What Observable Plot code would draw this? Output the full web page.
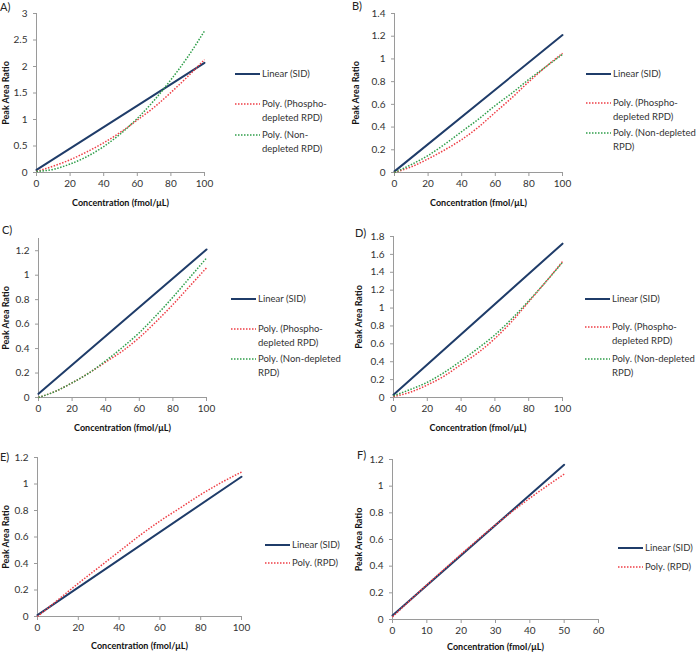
<!DOCTYPE html>
<html><head><meta charset="utf-8">
<script src="https://cdn.jsdelivr.net/npm/d3@7"></script>
<script src="https://cdn.jsdelivr.net/npm/@observablehq/plot@0.6"></script>
<style>
body{margin:0;background:#fff;}
#wrap{position:relative;width:696px;height:652px;font-family:Lato,sans-serif;overflow:hidden;}
.panel{position:absolute;}
.tag{position:absolute;font-size:11px;color:#222;line-height:12px;}
.leg{position:absolute;font-size:9.5px;color:#333;line-height:13.5px;white-space:nowrap;}
.leg svg{position:absolute;left:0;top:0;}
.leg .t{position:absolute;left:27px;top:0;}
g[aria-label="x-axis label"] text, g[aria-label="y-axis label"] text{font-weight:bold;font-size:9px;fill:#111;}
</style></head>
<body><div id="wrap"></div>
<script>
// ---- data ----
const conc100 = [0, 10, 20, 30, 40, 50, 60, 70, 80, 90, 100];
const conc50 = [0, 10, 20, 30, 40, 50];
const linEnds100 = [0, 100];
const linEnds50 = [0, 50];

const linA = [0.05, 2.07];
const phosA = [0.02, 0.12, 0.24, 0.39, 0.56, 0.76, 0.99, 1.23, 1.51, 1.81, 2.13];
const nonA = [0.02, 0.06, 0.16, 0.30, 0.49, 0.73, 1.02, 1.36, 1.75, 2.18, 2.67];

const linB = [0.01, 1.21];
const phosB = [0.00, 0.05, 0.12, 0.20, 0.29, 0.40, 0.53, 0.66, 0.80, 0.93, 1.05];
const nonB = [0.00, 0.07, 0.15, 0.25, 0.36, 0.47, 0.59, 0.70, 0.82, 0.93, 1.04];

const linC = [0.03, 1.21];
const phosC = [0.00, 0.05, 0.12, 0.20, 0.29, 0.38, 0.49, 0.62, 0.76, 0.91, 1.06];
const nonC = [0.00, 0.05, 0.12, 0.20, 0.30, 0.41, 0.53, 0.67, 0.82, 0.98, 1.14];

const linD = [0.03, 1.72];
const phosD = [0.01, 0.06, 0.14, 0.24, 0.37, 0.50, 0.66, 0.85, 1.07, 1.29, 1.52];
const nonD = [0.02, 0.09, 0.17, 0.28, 0.41, 0.55, 0.70, 0.88, 1.08, 1.29, 1.51];

const linE = [0.01, 1.055];
const rpdE = [0.00, 0.125, 0.25, 0.37, 0.49, 0.61, 0.72, 0.82, 0.92, 1.01, 1.09];

const linF = [0.03, 1.16];
const rpdF = [0.02, 0.26, 0.49, 0.71, 0.91, 1.09];

const yTicksA = [0, 0.5, 1, 1.5, 2, 2.5, 3];
const yTicksB = [0, 0.2, 0.4, 0.6, 0.8, 1, 1.2, 1.4];
const yTicksC = [0, 0.2, 0.4, 0.6, 0.8, 1, 1.2];
const yTicksD = [0, 0.2, 0.4, 0.6, 0.8, 1, 1.2, 1.4, 1.6, 1.8];
const yTicksE = [0, 0.2, 0.4, 0.6, 0.8, 1, 1.2];
const yTicksF = [0, 0.2, 0.4, 0.6, 0.8, 1, 1.2];
const xTicks100 = [0, 20, 40, 60, 80, 100];
const xTicks60 = [0, 10, 20, 30, 40, 50, 60];

const tags = ["A)", "B)", "C)", "D)", "E)", "F)"];
const xTitle = "Concentration (fmol/μL)";
const yTitle = "Peak Area Ratio";
const legLinear = ["Linear (SID)"];
const legPhos = ["Poly. (Phospho-", "depleted RPD)"];
const legNonA = ["Poly. (Non-", "depleted RPD)"];
const legNon = ["Poly. (Non-depleted", "RPD)"];
const legRpd = ["Poly. (RPD)"];

// ---- styles ----
const NAVY = "#1F3C69", RED = "#EE3E45", GREEN = "#2F9E4A";

const toRows = (xs, ys) => xs.map((x, i) => ({x, y: ys[i]}));

const panels = [
  {tag: tags[0], xDom: [0, 100], xTicks: xTicks100, yDom: [0, 3], yTicks: yTicksA,
   series: [{xs: linEnds100, ys: linA, kind: "lin"}, {xs: conc100, ys: phosA, kind: "red"}, {xs: conc100, ys: nonA, kind: "green"}],
   legend: [[legLinear, "lin"], [legPhos, "red"], [legNonA, "green"]],
   L: 0, T: 0, W: 214, H: 212, mL: 36, mT: 13, mR: 10, mB: 40, yOff: 34, xOff: 33,
   tagPos: [0, 1], legX: 235, legY: [74, 104, 135]},
  {tag: tags[1], xDom: [0, 100], xTicks: xTicks100, yDom: [0, 1.4], yTicks: yTicksB,
   series: [{xs: linEnds100, ys: linB, kind: "lin"}, {xs: conc100, ys: phosB, kind: "red"}, {xs: conc100, ys: nonB, kind: "green"}],
   legend: [[legLinear, "lin"], [legPhos, "red"], [legNon, "green"]],
   L: 345, T: 0, W: 227, H: 212, mL: 49, mT: 13, mR: 10, mB: 40, yOff: 42, xOff: 33,
   tagPos: [352, 0], legX: 586, legY: [74, 103, 133]},
  {tag: tags[2], xDom: [0, 100], xTicks: xTicks100, yDom: [0, 1.3], yTicks: yTicksC,
   series: [{xs: linEnds100, ys: linC, kind: "lin"}, {xs: conc100, ys: phosC, kind: "red"}, {xs: conc100, ys: nonC, kind: "green"}],
   legend: [[legLinear, "lin"], [legPhos, "red"], [legNon, "green"]],
   L: 0, T: 215, W: 216, H: 222, mL: 38, mT: 23, mR: 10, mB: 40, yOff: 36, xOff: 33,
   tagPos: [2, 224], legX: 231, legY: [299, 329, 359]},
  {tag: tags[3], xDom: [0, 100], xTicks: xTicks100, yDom: [0, 1.8], yTicks: yTicksD,
   series: [{xs: linEnds100, ys: linD, kind: "lin"}, {xs: conc100, ys: phosD, kind: "red"}, {xs: conc100, ys: nonD, kind: "green"}],
   legend: [[legLinear, "lin"], [legPhos, "red"], [legNon, "green"]],
   L: 345, T: 215, W: 227, H: 222, mL: 48, mT: 21, mR: 10, mB: 40, yOff: 38, xOff: 33,
   tagPos: [355, 227], legX: 585, legY: [299, 327, 359]},
  {tag: tags[4], xDom: [0, 100], xTicks: xTicks100, yDom: [0, 1.2], yTicks: yTicksE,
   series: [{xs: linEnds100, ys: linE, kind: "lin"}, {xs: conc100, ys: rpdE, kind: "red"}],
   legend: [[legLinear, "lin"], [legRpd, "red"]],
   L: 0, T: 440, W: 251, H: 212, mL: 37, mT: 17, mR: 10, mB: 36, yOff: 35, xOff: 32,
   tagPos: [0, 451], legX: 265, legY: [545, 563]},
  {tag: tags[5], xDom: [0, 60], xTicks: xTicks60, yDom: [0, 1.2], yTicks: yTicksF,
   series: [{xs: linEnds50, ys: linF, kind: "lin"}, {xs: conc50, ys: rpdF, kind: "red"}],
   legend: [[legLinear, "lin"], [legRpd, "red"]],
   L: 345, T: 440, W: 263, H: 212, mL: 47, mT: 19, mR: 10, mB: 33, yOff: 37, xOff: 30,
   tagPos: [357, 449], legX: 618, legY: [548, 567]}
];

const lineStyle = {
  lin: {stroke: NAVY, strokeWidth: 2},
  red: {stroke: RED, strokeWidth: 1.5, strokeDasharray: "1.5,1.5", strokeLinecap: "butt", curve: "monotone-x"},
  green: {stroke: GREEN, strokeWidth: 1.5, strokeDasharray: "1.5,1.5", strokeLinecap: "butt", curve: "monotone-x"}
};

const wrap = document.getElementById("wrap");

for (const p of panels) {
  const marks = [
    Plot.ruleY([0], {stroke: "#9a9a9a", strokeWidth: 1}),
    Plot.ruleX([p.xDom[0]], {stroke: "#9a9a9a", strokeWidth: 1}),
    Plot.axisX({ticks: p.xTicks, tickSize: 4, tickPadding: 3, stroke: "#9a9a9a", fill: "#333",
      label: xTitle, labelAnchor: "center", labelArrow: "none", labelOffset: p.xOff, fontSize: 10}),
    Plot.axisY({ticks: p.yTicks, tickFormat: d => String(d), tickSize: 3, tickPadding: 6, stroke: "#9a9a9a", fill: "#333",
      label: yTitle, labelAnchor: "center", labelArrow: "none", labelOffset: p.yOff, fontSize: 10}),
  ];
  for (const s of p.series) {
    marks.push(Plot.line(toRows(s.xs, s.ys), {x: "x", y: "y", ...lineStyle[s.kind]}));
  }
  const chart = Plot.plot({
    width: p.W, height: p.H,
    marginLeft: p.mL, marginTop: p.mT, marginRight: p.mR, marginBottom: p.mB,
    x: {domain: p.xDom}, y: {domain: p.yDom},
    style: {fontFamily: "Lato, sans-serif", fontSize: "10px", background: "transparent", overflow: "visible", color: "#333"},
    marks
  });
  chart.classList.add("panel");
  chart.style.left = p.L + "px";
  chart.style.top = p.T + "px";
  wrap.appendChild(chart);

  const tag = document.createElement("div");
  tag.className = "tag";
  tag.textContent = p.tag;
  tag.style.left = p.tagPos[0] + "px";
  tag.style.top = p.tagPos[1] + "px";
  wrap.appendChild(tag);

  p.legend.forEach(([lines, kind], i) => {
    const d = document.createElement("div");
    d.className = "leg";
    d.style.left = p.legX + "px";
    d.style.top = (p.legY[i] - 6.75) + "px";
    const st = lineStyle[kind];
    d.innerHTML = `<svg width="26" height="14"><line x1="0" x2="25" y1="7" y2="7" stroke="${st.stroke}" stroke-width="${st.strokeWidth}" ${st.strokeDasharray ? `stroke-dasharray="${st.strokeDasharray}"` : ""}/></svg><div class="t">${lines.join("<br>")}</div>`;
    wrap.appendChild(d);
  });
}
</script>
</body></html>
